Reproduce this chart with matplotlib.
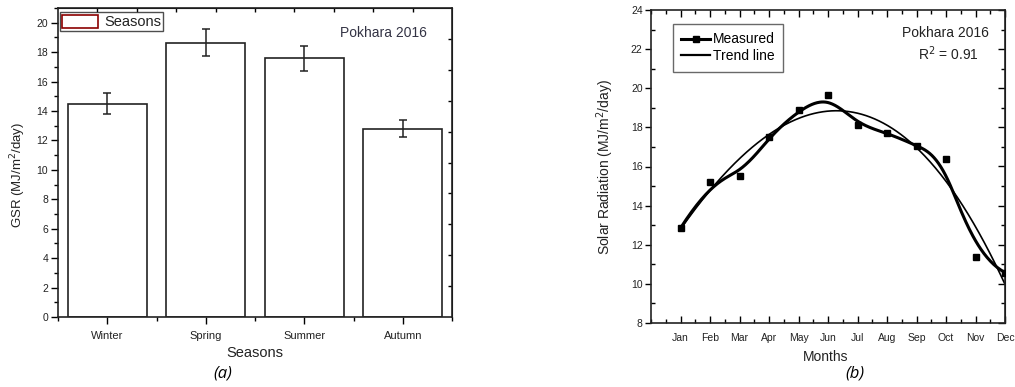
import numpy as np
from matplotlib import pyplot as plt
from matplotlib import patches as mpatches
from matplotlib.lines import Line2D
from matplotlib.ticker import MultipleLocator

# (a) seasonal GSR
seasons = ["Winter", "Spring", "Summer", "Autumn"]
gsr_mean = [14.5, 18.65, 17.6, 12.8]
gsr_err = [0.7, 0.9, 0.85, 0.6]

# (b) monthly solar radiation
months = ["Jan", "Feb", "Mar", "Apr", "May", "Jun",
          "Jul", "Aug", "Sep", "Oct", "Nov", "Dec"]
measured = [12.85, 15.2, 15.5, 17.5, 18.87, 19.65,
            18.14, 17.72, 17.07, 16.38, 11.38, 10.58]

NARROW = ['Liberation Sans Narrow', 'Liberation Sans']
ARIAL = ['Liberation Sans', 'DejaVu Sans']
TXT = '#222222'


def bspline(xs, ys, k=3, n=400):
    """Clamped B-spline using the data as control points (Origin style)."""
    m = len(xs)
    knots = np.concatenate([np.zeros(k), np.arange(m - k + 1), np.full(k, m - k)]).astype(float)
    t = np.linspace(0, m - k, n)

    def basis(i, p):
        if p == 0:
            b = (knots[i] <= t) & (t < knots[i + 1])
            if knots[i + 1] == knots[-1] and knots[i] < knots[i + 1]:
                b = b | (t == knots[-1])
            return b.astype(float)
        out = np.zeros_like(t)
        d1 = knots[i + p] - knots[i]
        if d1 > 0:
            out += (t - knots[i]) / d1 * basis(i, p - 1)
        d2 = knots[i + p + 1] - knots[i + 1]
        if d2 > 0:
            out += (knots[i + p + 1] - t) / d2 * basis(i + 1, p - 1)
        return out

    B = np.array([basis(i, k) for i in range(m)])
    return B.T @ np.asarray(xs, float), B.T @ np.asarray(ys, float)


fig = plt.figure(figsize=(10.15, 3.87), dpi=100)

# ---------------- (a) bar chart ----------------
ax1 = fig.add_axes([58 / 1015, 1 - 317 / 387, 394 / 1015, 309 / 387])
xpos = np.arange(1, len(seasons) + 1)
ax1.bar(xpos, gsr_mean, width=0.8, facecolor='white', edgecolor='#222222',
        linewidth=1.2, zorder=2)
ax1.errorbar(xpos, gsr_mean, yerr=gsr_err, fmt='none', ecolor='#222222',
             elinewidth=1.1, capsize=3, capthick=1.1, zorder=3)
ax1.set_xlim(0.5, 4.5)
ax1.set_ylim(0, 21)
ax1.set_xticks(xpos)
ax1.set_xticklabels(seasons, family=ARIAL, fontsize=8, color=TXT)
ax1.xaxis.set_minor_locator(MultipleLocator(1, offset=0.5))
ax1.yaxis.set_major_locator(MultipleLocator(2))
ax1.yaxis.set_minor_locator(MultipleLocator(1))
for lab in ax1.get_yticklabels():
    lab.set_family(ARIAL)
ax1.tick_params(axis='y', which='major', direction='out', length=5, width=1,
                labelsize=7.5, labelcolor=TXT, pad=2)
ax1.tick_params(axis='y', which='minor', direction='out', length=3, width=1)
ax1.tick_params(axis='x', which='major', direction='out', length=5, width=1, pad=5)
ax1.tick_params(axis='x', which='minor', direction='out', length=3, width=1)
for s in ax1.spines.values():
    s.set_linewidth(1.2)
    s.set_color('#222222')

top1 = ax1.secondary_xaxis('top')
top1.set_xticks(np.arange(0.9, 4.5, 0.4))
top1.tick_params(direction='in', length=3, width=1, labeltop=False)
right1 = ax1.secondary_yaxis('right')
right1.set_yticks(np.arange(2.1, 21, 2.1))
right1.tick_params(direction='in', length=3, width=1, labelright=False)

leg_patch = mpatches.Patch(facecolor='white', edgecolor='#8b0000', linewidth=1.2)
leg1 = ax1.legend([leg_patch], ['Seasons'], loc='upper left',
                  bbox_to_anchor=(0.004, 0.986), frameon=True, fancybox=False,
                  prop={'family': ARIAL, 'size': 10.5}, handlelength=2.5,
                  handleheight=1.0, borderpad=0.15, borderaxespad=0,
                  handletextpad=0.4)
leg1.get_frame().set_edgecolor('#222222')
leg1.get_frame().set_linewidth(1)
for t in leg1.get_texts():
    t.set_color(TXT)

ax1.text(0.935, 0.92, 'Pokhara 2016', transform=ax1.transAxes, ha='right',
         va='center', family=ARIAL, fontsize=10, color='#333344')

fig.text(18 / 1015, 1 - 175 / 387, 'GSR (MJ/m$^2$/day)', rotation=90,
         ha='center', va='center', family=ARIAL, fontsize=9.5, color=TXT)
fig.text(255 / 1015, 1 - 353 / 387, 'Seasons', ha='center', va='center',
         family=ARIAL, fontsize=10.5, color=TXT)
fig.text(223 / 1015, 1 - 374 / 387, '(a)', ha='center', va='center',
         family=['Open Sans'], style='italic', fontsize=12, color='black')

# ---------------- (b) monthly curve ----------------
ax2 = fig.add_axes([651 / 1015, 1 - 323 / 387, 354 / 1015, 313 / 387])
mx = np.arange(1, len(months) + 1)
sx, sy = bspline(mx, measured)
ax2.plot(sx, sy, color='black', linewidth=2.2, zorder=3)
ax2.plot(mx, measured, linestyle='', marker='s', markersize=5,
         color='black', zorder=4)
coef = np.polyfit(mx, measured, 3)
tx = np.linspace(1, 12, 300)
ax2.plot(tx, np.polyval(coef, tx), color='black', linewidth=1.2, zorder=2)

ax2.set_xlim(0, 12)
ax2.set_ylim(8, 24)
ax2.set_xticks(mx)
ax2.set_xticklabels(months, family=NARROW, fontsize=7.5, color=TXT)
ax2.xaxis.set_minor_locator(MultipleLocator(0.5))
ax2.yaxis.set_major_locator(MultipleLocator(2))
ax2.yaxis.set_minor_locator(MultipleLocator(1))
for lab in ax2.get_yticklabels():
    lab.set_family(NARROW)
ax2.tick_params(axis='x', which='major', direction='in', length=5, width=1,
                top=True, pad=7)
ax2.tick_params(axis='x', which='minor', direction='in', length=3, width=1, top=True)
ax2.tick_params(axis='y', which='major', direction='out', length=4, width=1,
                labelsize=7.5, labelcolor=TXT, pad=2)
ax2.tick_params(axis='y', which='minor', direction='in', length=3, width=1)
for s in ax2.spines.values():
    s.set_linewidth(1.2)
    s.set_color('#222222')

right2 = ax2.secondary_yaxis('right')
right2.yaxis.set_major_locator(MultipleLocator(2))
right2.yaxis.set_minor_locator(MultipleLocator(1))
right2.tick_params(which='major', direction='in', length=5, width=1, labelright=False)
right2.tick_params(which='minor', direction='in', length=3, width=1)

handles = [Line2D([], [], color='black', linewidth=2.2, marker='s', markersize=5),
           Line2D([], [], color='black', linewidth=1.6)]
leg2 = ax2.legend(handles, ['Measured', 'Trend line'], loc='upper left',
                  bbox_to_anchor=(0.062, 0.955), frameon=True, fancybox=False,
                  prop={'family': NARROW, 'size': 10}, handlelength=2.1,
                  borderpad=0.6, borderaxespad=0, handletextpad=0.2,
                  labelspacing=0.2)
leg2.get_frame().set_edgecolor('#444444')
leg2.get_frame().set_linewidth(1)

ax2.text(0.955, 0.925, 'Pokhara 2016', transform=ax2.transAxes, ha='right',
         va='center', family=NARROW, fontsize=10, color=TXT)
ax2.text(0.925, 0.86, 'R$^2$ = 0.91', transform=ax2.transAxes, ha='right',
         va='center', family=NARROW, fontsize=10, color=TXT)

fig.text(605 / 1015, 1 - 167 / 387, 'Solar Radiation (MJ/m$^2$/day)', rotation=90,
         ha='center', va='center', family=ARIAL, fontsize=10, color=TXT)
fig.text(826 / 1015, 1 - 357 / 387, 'Months', ha='center', va='center',
         family=NARROW, fontsize=10, color=TXT)
fig.text(855 / 1015, 1 - 373 / 387, '(b)', ha='center', va='center',
         family=['Open Sans'], style='italic', fontsize=12, color='black')

fig.savefig('out.png', dpi=100)
